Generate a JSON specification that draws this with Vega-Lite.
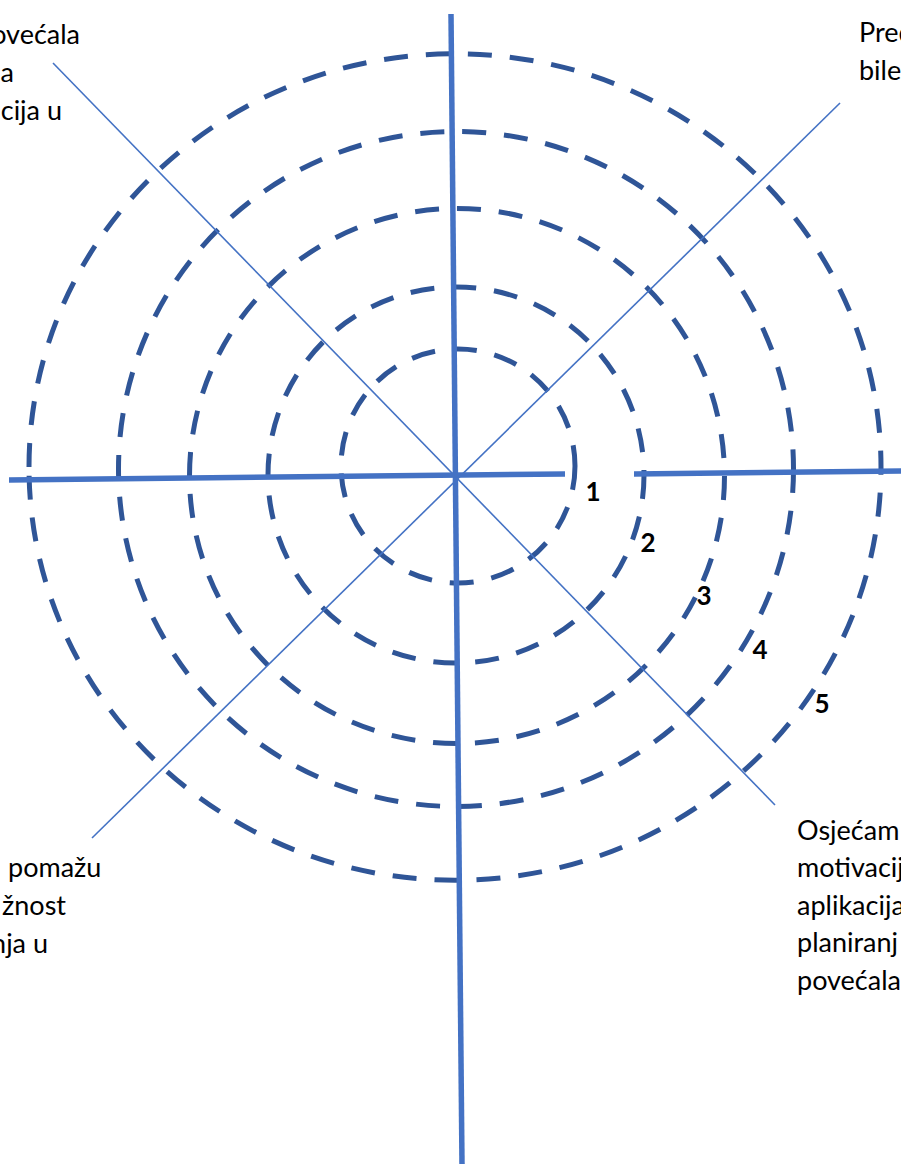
{
  "$schema": "https://vega.github.io/schema/vega-lite/v6.json",
  "width": 901,
  "height": 1164,
  "autosize": {"type": "none"},
  "padding": 0,
  "background": "white",
  "config": {"view": {"stroke": null}},
  "datasets": {
    "rings": [
      {"level": 1, "cx": 458, "cy": 466},
      {"level": 2, "cx": 456, "cy": 475},
      {"level": 3, "cx": 457, "cy": 476},
      {"level": 4, "cx": 456, "cy": 469},
      {"level": 5, "cx": 455, "cy": 467}
    ],
    "axes": [
      {"name": "vertical", "x1": 451, "y1": 14, "x2": 462, "y2": 1164},
      {"name": "horizontal-left", "x1": 9, "y1": 480, "x2": 565, "y2": 474},
      {"name": "horizontal-right", "x1": 634, "y1": 474, "x2": 901, "y2": 471}
    ],
    "diagonals": [
      {"name": "diag1", "x1": 53, "y1": 63, "x2": 775, "y2": 805},
      {"name": "diag2", "x1": 840, "y1": 103, "x2": 92, "y2": 838}
    ],
    "numbers": [
      {"t": "1", "x": 593, "y": 493},
      {"t": "2", "x": 648, "y": 544},
      {"t": "3", "x": 704, "y": 597},
      {"t": "4", "x": 760, "y": 651},
      {"t": "5", "x": 822, "y": 705}
    ],
    "labelsRight": [
      {"t": "povećala", "x": 80, "y": 36},
      {"t": "a", "x": 14, "y": 74},
      {"t": "cija u", "x": 62, "y": 112},
      {"t": "žnost", "x": 66, "y": 907},
      {"t": "nja u", "x": 48, "y": 945}
    ],
    "labelsLeft": [
      {"t": "Pred", "x": 859, "y": 34},
      {"t": "bile", "x": 859, "y": 72},
      {"t": "pomažu", "x": 8, "y": 869},
      {"t": "Osjećam", "x": 797, "y": 832},
      {"t": "motivacij", "x": 797, "y": 869},
      {"t": "aplikacija", "x": 797, "y": 907},
      {"t": "planiranj", "x": 797, "y": 944},
      {"t": "povećala", "x": 797, "y": 982}
    ]
  },
  "layer": [
    {
      "data": {"name": "rings"},
      "mark": {"type": "point", "filled": false, "opacity": 1, "stroke": "#2F5597", "strokeWidth": 5, "strokeDash": [24, 18]},
      "encoding": {
        "x": {"field": "cx", "type": "quantitative", "scale": {"domain": [0, 901], "nice": false, "zero": false}, "axis": null},
        "y": {"field": "cy", "type": "quantitative", "scale": {"domain": [0, 1164], "nice": false, "zero": false, "reverse": true}, "axis": null},
        "size": {"field": "level", "type": "quantitative", "scale": {"type": "linear", "domain": [1, 2, 3, 4, 5], "range": [54756, 141376, 286225, 455625, 725904]}, "legend": null},
        "shape": {"field": "level", "type": "ordinal", "scale": {"domain": [1, 2, 3, 4, 5], "range": ["circle", "circle", "circle", "circle", "M -1 0 A 1 0.97 0 1 1 1 0 A 1 0.97 0 1 1 -1 0 Z"]}, "legend": null}
      }
    },
    {
      "data": {"name": "diagonals"},
      "mark": {"type": "rule", "color": "#4472C4", "strokeWidth": 1.6},
      "encoding": {
        "x": {"field": "x1", "type": "quantitative", "scale": {"domain": [0, 901], "nice": false, "zero": false}, "axis": null},
        "y": {"field": "y1", "type": "quantitative", "scale": {"domain": [0, 1164], "nice": false, "zero": false, "reverse": true}, "axis": null},
        "x2": {"field": "x2"},
        "y2": {"field": "y2"}
      }
    },
    {
      "data": {"name": "axes"},
      "mark": {"type": "rule", "color": "#4472C4", "strokeWidth": 5.5},
      "encoding": {
        "x": {"field": "x1", "type": "quantitative", "scale": {"domain": [0, 901], "nice": false, "zero": false}, "axis": null},
        "y": {"field": "y1", "type": "quantitative", "scale": {"domain": [0, 1164], "nice": false, "zero": false, "reverse": true}, "axis": null},
        "x2": {"field": "x2"},
        "y2": {"field": "y2"}
      }
    },
    {
      "data": {"name": "numbers"},
      "mark": {"type": "text", "font": "Lato", "fontSize": 26, "fontWeight": "bold", "color": "black", "align": "center", "baseline": "middle"},
      "encoding": {
        "x": {"field": "x", "type": "quantitative", "scale": {"domain": [0, 901], "nice": false, "zero": false}, "axis": null},
        "y": {"field": "y", "type": "quantitative", "scale": {"domain": [0, 1164], "nice": false, "zero": false, "reverse": true}, "axis": null},
        "text": {"field": "t"}
      }
    },
    {
      "data": {"name": "labelsRight"},
      "mark": {"type": "text", "font": "Lato", "fontSize": 27, "color": "black", "align": "right", "baseline": "middle"},
      "encoding": {
        "x": {"field": "x", "type": "quantitative", "scale": {"domain": [0, 901], "nice": false, "zero": false}, "axis": null},
        "y": {"field": "y", "type": "quantitative", "scale": {"domain": [0, 1164], "nice": false, "zero": false, "reverse": true}, "axis": null},
        "text": {"field": "t"}
      }
    },
    {
      "data": {"name": "labelsLeft"},
      "mark": {"type": "text", "font": "Lato", "fontSize": 27, "color": "black", "align": "left", "baseline": "middle"},
      "encoding": {
        "x": {"field": "x", "type": "quantitative", "scale": {"domain": [0, 901], "nice": false, "zero": false}, "axis": null},
        "y": {"field": "y", "type": "quantitative", "scale": {"domain": [0, 1164], "nice": false, "zero": false, "reverse": true}, "axis": null},
        "text": {"field": "t"}
      }
    }
  ]
}
